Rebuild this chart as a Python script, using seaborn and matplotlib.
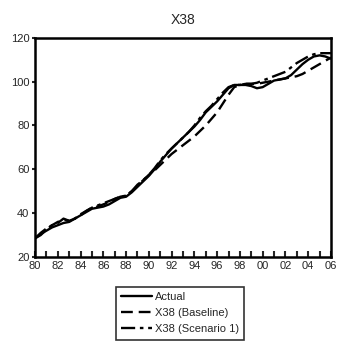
import numpy as np
import pandas as pd
import seaborn as sns
import matplotlib.pyplot as plt

# half-year observations, 1980.0 .. 2006.0
years = np.arange(1980, 2006.01, 0.5)

actual = [28.5, 30.5, 32, 33.5, 34.5, 35.5, 36, 37.5, 39, 40.5,
          42, 42.5, 43, 44, 45.5, 47, 47.5, 49.5, 52, 54.5,
          57, 60, 63.5, 66.5, 69.5, 72, 74.5, 77, 79.5, 82.5,
          86, 88.5, 91, 94, 97, 98.5, 98.5, 98.5, 98, 97,
          97.5, 99, 100.5, 101, 101.5, 103, 105.5, 108, 110, 111.5,
          112, 111.5, 110.5]
baseline = [28.5, 30, 32.5, 34.5, 36, 37, 36.5, 37.5, 39, 41,
            42.5, 43, 44, 45, 46.5, 47.5, 48, 50, 52.5, 55,
            57.5, 59.5, 62, 64.5, 67, 69, 71, 73, 75, 77.5,
            80, 83, 86, 90, 94, 97.5, 98.5, 99, 99, 99,
            99.5, 100, 100.5, 101, 101.5, 102, 102.5, 103.5, 105, 106.5,
            108, 109.5, 111]
scenario = [28.5, 31, 33, 34.5, 35.5, 37.5, 36.5, 37.5, 39.5, 41,
            42.5, 43.5, 44.5, 45.5, 46.5, 47.5, 48, 50, 53, 55,
            57.5, 60.5, 64, 67, 69.5, 72, 74.5, 77, 80, 83.5,
            86.5, 89, 92, 95, 97.5, 98.5, 98.5, 99, 99, 99.5,
            100.5, 101.5, 102.5, 103.5, 104.5, 106.5, 108.5, 110, 111.5, 112.5,
            113, 113, 113]

series_names = ['Actual', 'X38 (Baseline)', 'X38 (Scenario 1)']

df = pd.DataFrame({
    'year': np.tile(years, 3),
    'value': actual + baseline + scenario,
    'series': np.repeat(series_names, len(years)),
})

sns.set_style('white')
plt.rcParams['font.family'] = ['Liberation Sans', 'DejaVu Sans']

fig = plt.figure(figsize=(3.37, 3.44), dpi=100)
ax = fig.add_axes([0.104, 0.253, 0.878, 0.637])

sns.lineplot(data=df, x='year', y='value', hue='series', style='series',
             palette=['black'] * 3,
             dashes={'Actual': '', 'X38 (Baseline)': (5, 2.5),
                     'X38 (Scenario 1)': (6, 2, 1.5, 2)},
             linewidth=1.7, ax=ax)

ax.set_xlim(1980, 2006)
ax.set_ylim(20, 120)
ax.set_xlabel('')
ax.set_ylabel('')
ax.set_title('X38', fontsize=10, pad=10)

xt = np.arange(1980, 2007, 2)
ax.set_xticks(xt)
ax.set_xticklabels(['%02d' % (y % 100) for y in xt], fontsize=8)
ax.set_xticks(np.arange(1980, 2007, 1), minor=True)
ax.tick_params(axis='x', which='both', direction='in', length=4, width=1.5,
               bottom=True, pad=3)
ax.set_yticks([20, 40, 60, 80, 100, 120])
ax.tick_params(axis='y', direction='out', length=2, width=1.5, left=True,
               labelsize=8, pad=2)

for s in ax.spines.values():
    s.set_linewidth(1.8)
    s.set_color('black')

handles, labels = ax.get_legend_handles_labels()
ax.legend(handles, labels, loc='upper center', bbox_to_anchor=(0.49, -0.135),
          frameon=True, fancybox=False, edgecolor='black', fontsize=8,
          handlelength=2.8, handletextpad=0.2, borderpad=0.5,
          labelspacing=0.55, borderaxespad=0)
ax.get_legend().get_frame().set_linewidth(1.2)

fig.savefig('out.png', dpi=100)
